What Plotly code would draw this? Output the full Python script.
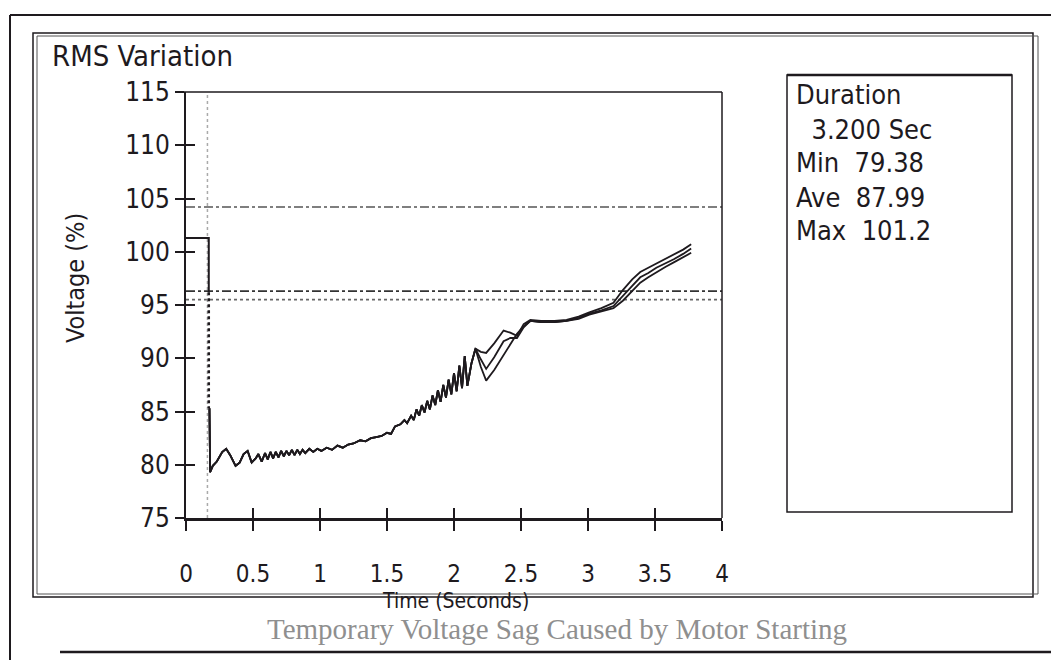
import plotly.graph_objects as go

# ---------------- data ----------------
# pre-fault level
t_pre = [0.0, 0.17, 0.17]
v_pre = [101.3, 101.3, 96.2]
# dotted transition segment of the drop
t_drop = [0.17, 0.17]
v_drop = [96.2, 85.3]

# common trajectory of all three phases (seconds, % voltage)
t_common = [0.175, 0.18, 0.20, 0.23, 0.27, 0.30, 0.33, 0.37, 0.40, 0.43, 0.46, 0.49,
            0.52, 0.54, 0.565, 0.59, 0.61, 0.63, 0.65, 0.67, 0.69, 0.71, 0.73, 0.75,
            0.77, 0.79, 0.81, 0.83, 0.85, 0.87, 0.89, 0.92, 0.95, 0.98, 1.01, 1.05,
            1.09, 1.13, 1.17, 1.21, 1.25, 1.30, 1.34, 1.38, 1.42, 1.46, 1.50, 1.53,
            1.56, 1.60, 1.63, 1.65, 1.68, 1.70, 1.72, 1.74, 1.76, 1.78, 1.80, 1.82,
            1.84, 1.86, 1.88, 1.90, 1.92, 1.94, 1.96, 1.98, 2.00, 2.02, 2.04, 2.06,
            2.08, 2.10, 2.13, 2.16]
v_common = [85.3, 79.3, 79.9, 80.3, 81.2, 81.5, 80.9, 79.9, 80.2, 81.0, 81.3, 80.2,
            80.6, 81.0, 80.3, 81.1, 80.5, 81.2, 80.6, 81.2, 80.7, 81.3, 80.8, 81.3,
            80.9, 81.4, 80.9, 81.4, 81.0, 81.4, 81.1, 81.5, 81.2, 81.5, 81.3, 81.6,
            81.4, 81.8, 81.6, 81.9, 82.0, 82.3, 82.2, 82.5, 82.6, 82.7, 83.0, 82.9,
            83.6, 83.8, 84.2, 83.9, 84.6, 84.2, 85.2, 84.6, 85.6, 84.9, 86.0, 85.2,
            86.5, 85.6, 87.0, 85.9, 87.5, 86.3, 88.0, 86.6, 88.6, 86.9, 89.3, 87.2,
            90.2, 87.4, 89.5, 90.9]

# individual phases after the split
t_split = [2.20, 2.24, 2.30, 2.37, 2.42, 2.47, 2.52, 2.57, 2.65, 2.75, 2.84, 2.93,
           3.01, 3.10, 3.19, 3.26, 3.33, 3.39, 3.45, 3.51, 3.58, 3.64, 3.71, 3.77]
v_phase_a = [89.2, 87.9, 88.9, 90.3, 91.4, 92.3, 93.0, 93.5, 93.4, 93.4, 93.5, 93.7,
             94.1, 94.4, 94.7, 95.4, 96.3, 97.1, 97.6, 98.1, 98.6, 99.0, 99.5, 99.9]
v_phase_b = [89.9, 89.0, 90.1, 91.6, 91.9, 91.9, 92.9, 93.5, 93.4, 93.4, 93.5, 93.8,
             94.2, 94.5, 94.9, 95.8, 96.8, 97.6, 98.0, 98.5, 98.9, 99.3, 99.8, 100.3]
v_phase_c = [90.6, 90.5, 91.4, 92.6, 92.4, 92.1, 93.2, 93.6, 93.5, 93.5, 93.6, 93.9,
             94.3, 94.7, 95.2, 96.4, 97.4, 98.1, 98.5, 98.9, 99.4, 99.8, 100.2, 100.7]

threshold_levels = [104.2, 96.3, 95.5]
threshold_dash = ["dashdot", "dashdot", "dot"]
threshold_color = ["#555555", "#333333", "#666666"]
event_start = 0.16

x_tick_vals = [0, 0.5, 1, 1.5, 2, 2.5, 3, 3.5, 4]
x_tick_text = ["0", "0.5", "1", "1.5", "2", "2.5", "3", "3.5", "4"]
y_tick_vals = [75, 80, 85, 90, 95, 100, 105, 110, 115]

stats_lines = ["Duration", "  3.200 Sec", "Min  79.38", "Ave  87.99", "Max  101.2"]

# ---------------- figure ----------------
W, H = 1051, 660
FONT = "DejaVu Sans Condensed, Liberation Sans Narrow, Liberation Sans, sans-serif"
INK = "#1e1a1e"

def px(x):
    return x / W

def py(y):
    return 1 - y / H

fig = go.Figure()

line_style = dict(color=INK, width=2)
fig.add_trace(go.Scatter(x=t_pre, y=v_pre, mode="lines", line=line_style, showlegend=False))
fig.add_trace(go.Scatter(x=t_drop, y=v_drop, mode="lines",
                         line=dict(color=INK, width=2.5, dash="dot"), showlegend=False))
for vs in (v_phase_a, v_phase_b, v_phase_c):
    fig.add_trace(go.Scatter(x=t_common + t_split, y=v_common + vs, mode="lines",
                             line=dict(color=INK, width=1.8), showlegend=False))

for lvl, dsh, col in zip(threshold_levels, threshold_dash, threshold_color):
    fig.add_hline(y=lvl, line=dict(color=col, width=1.6, dash=dsh), layer="below")
fig.add_vline(x=event_start, line=dict(color="#aaaaaa", width=1.5, dash="dot"), layer="below")

x0, x1 = px(186), px(722)
y0, y1 = py(518), py(92)

fig.update_layout(
    width=W, height=H, autosize=False,
    margin=dict(l=0, r=0, t=0, b=0, pad=0, autoexpand=False),
    paper_bgcolor="white", plot_bgcolor="white",
    font=dict(family=FONT, color=INK),
    xaxis=dict(domain=[x0, x1], range=[0, 4], showgrid=False, zeroline=False, automargin=False,
               showline=True, linecolor=INK, linewidth=3,
               ticks="outside", ticklen=10, tickwidth=1.5, tickcolor=INK,
               tickvals=x_tick_vals, ticktext=x_tick_text,
               tickfont=dict(size=24, family=FONT, color=INK),
               ticklabelstandoff=22),
    xaxis2=dict(domain=[x0, x1], range=[0, 4], overlaying="x", anchor="y", side="bottom",
                showgrid=False, zeroline=False, showline=False, automargin=False,
                ticks="inside", ticklen=10, tickwidth=1.5, tickcolor=INK,
                tickvals=x_tick_vals, showticklabels=False),
    yaxis=dict(domain=[y0, y1], range=[75, 115], showgrid=False, zeroline=False, automargin=False,
               showline=True, linecolor=INK, linewidth=2,
               ticks="outside", ticklen=9, tickwidth=1.5, tickcolor=INK,
               tickvals=y_tick_vals,
               tickfont=dict(size=26, family=FONT, color=INK)),
    yaxis2=dict(domain=[y0, y1], range=[75, 115], overlaying="y", anchor="x", side="left",
                showgrid=False, zeroline=False, showline=False, automargin=False,
                ticks="inside", ticklen=9, tickwidth=1.5, tickcolor=INK,
                tickvals=y_tick_vals, showticklabels=False),
)
# phantom trace so the overlay axes render
fig.add_trace(go.Scatter(x=[None], y=[None], xaxis="x2", yaxis="y2", showlegend=False))

def frame_line(xa, xb, ya, yb, width, color=INK):
    fig.add_shape(type="line", xref="paper", yref="paper", x0=xa, x1=xb, y0=ya, y1=yb,
                  line=dict(color=color, width=width))

def frame_rect(xa, xb, ya, yb, width, color=INK):
    fig.add_shape(type="rect", xref="paper", yref="paper", x0=xa, x1=xb, y0=ya, y1=yb,
                  line=dict(color=color, width=width), fillcolor="rgba(0,0,0,0)")

# plot box top & right
frame_line(px(178), x1, y1, y1, 1.5)
frame_line(x1, x1, y0, y1, 1.5)
# stats box
frame_rect(px(787), px(1012), py(512), py(75), 1.5)
frame_line(px(787), px(1012), py(75), py(75), 2.5)
# inner double frame
frame_rect(px(33), px(1033), py(597), py(33), 1.5)
frame_rect(px(37), px(1038), py(594), py(36), 1, "#555555")
# outer frame
frame_line(px(10), 1, py(15), py(15), 2)
frame_line(px(10), px(10), 0, py(15), 2)
frame_line(px(60), 1, py(652), py(652), 2.5)

ann = []
ann.append(dict(text="RMS Variation", x=px(50), y=py(56), xref="paper", yref="paper",
                xanchor="left", yanchor="middle", showarrow=False,
                font=dict(size=29, family=FONT, color=INK)))
ann.append(dict(text="Voltage (%)", x=px(76), y=py(278), xref="paper", yref="paper",
                textangle=-90, xanchor="center", yanchor="middle", showarrow=False,
                font=dict(size=25, family=FONT, color=INK)))
ann.append(dict(text="Time (Seconds)", x=px(455), y=py(601), xref="paper", yref="paper",
                xanchor="center", yanchor="middle", showarrow=False,
                font=dict(size=21, family=FONT, color=INK)))
stat_y = [95, 129, 162, 197, 231]
for txt, yy in zip(stats_lines, stat_y):
    ann.append(dict(text=txt.replace(" ", "&nbsp;"), x=px(794), y=py(yy), xref="paper", yref="paper",
                    xanchor="left", yanchor="middle", showarrow=False,
                    font=dict(size=27, family=FONT, color=INK)))
ann.append(dict(text="Temporary Voltage Sag Caused by Motor Starting", x=px(557), y=py(629),
                xref="paper", yref="paper", xanchor="center", yanchor="middle", showarrow=False,
                font=dict(size=29, family="Liberation Serif, serif", color="#8f8f8f")))
for a in ann:
    fig.add_annotation(**a)

fig.write_html("out.html")
